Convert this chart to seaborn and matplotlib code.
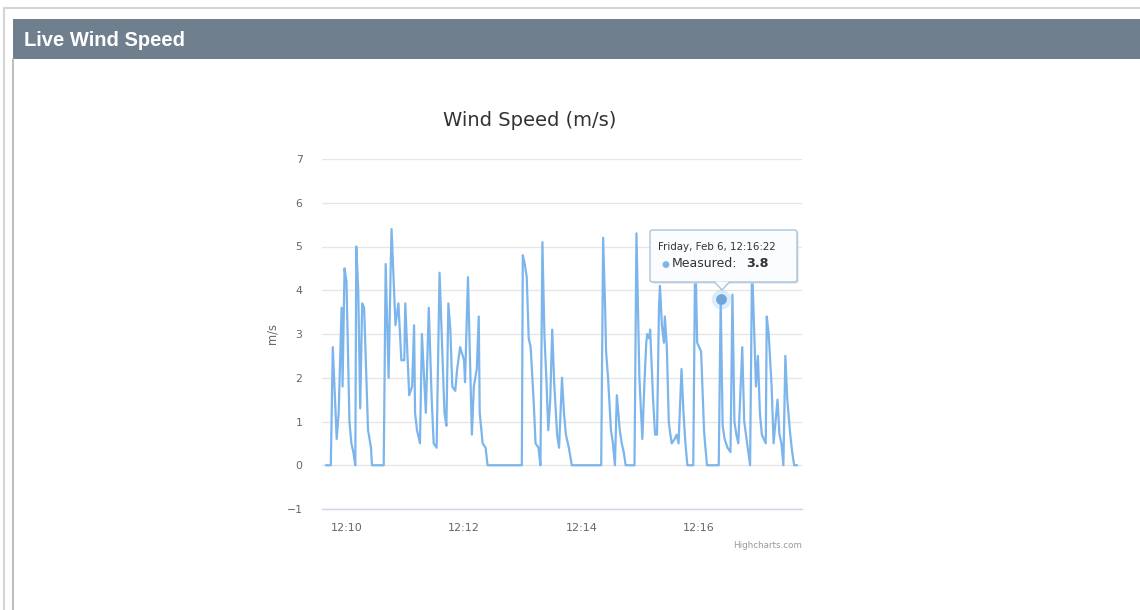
import pandas as pd
import matplotlib.pyplot as plt
import matplotlib.dates as mdates
from matplotlib.patches import Rectangle, Polygon, FancyBboxPatch
import seaborn as sns

# Setup
sns.set_style('white')
plt.rcParams['font.family'] = ['DejaVu Sans']

# Data, Friday Feb 6
day = '2015-02-06 '
times = [
    '12:09:39', '12:09:44', '12:09:46', '12:09:50', '12:09:52', '12:09:55', '12:09:56', '12:09:58',
    '12:10:00', '12:10:03', '12:10:05', '12:10:07', '12:10:09', '12:10:10', '12:10:12', '12:10:14',
    '12:10:16', '12:10:18', '12:10:22', '12:10:25', '12:10:26', '12:10:38', '12:10:40', '12:10:43',
    '12:10:45', '12:10:46', '12:10:48', '12:10:50', '12:10:53', '12:10:56', '12:10:59', '12:11:00',
    '12:11:04', '12:11:07', '12:11:09', '12:11:10', '12:11:12', '12:11:15', '12:11:17', '12:11:21',
    '12:11:24', '12:11:27', '12:11:29', '12:11:32', '12:11:35', '12:11:40', '12:11:42', '12:11:44',
    '12:11:46', '12:11:48', '12:11:51', '12:11:53', '12:11:56', '12:12:00', '12:12:01', '12:12:04',
    '12:12:08', '12:12:10', '12:12:13', '12:12:15', '12:12:16', '12:12:19', '12:12:22', '12:12:24',
    '12:12:59', '12:13:00', '12:13:02', '12:13:04', '12:13:06', '12:13:08', '12:13:11', '12:13:13',
    '12:13:16', '12:13:18', '12:13:20', '12:13:22', '12:13:24', '12:13:26', '12:13:28', '12:13:30',
    '12:13:32', '12:13:35', '12:13:37', '12:13:40', '12:13:42', '12:13:44', '12:13:47', '12:13:50',
    '12:14:20', '12:14:22', '12:14:24', '12:14:25', '12:14:27', '12:14:30', '12:14:32', '12:14:34',
    '12:14:36', '12:14:39', '12:14:41', '12:14:43', '12:14:45', '12:14:54', '12:14:56', '12:14:59',
    '12:15:02', '12:15:04', '12:15:06', '12:15:07', '12:15:09', '12:15:10', '12:15:13', '12:15:15',
    '12:15:17', '12:15:19', '12:15:20', '12:15:22', '12:15:24', '12:15:25', '12:15:27', '12:15:29',
    '12:15:30', '12:15:32', '12:15:35', '12:15:37', '12:15:39', '12:15:42', '12:15:44', '12:15:46',
    '12:15:48', '12:15:54', '12:15:56', '12:15:58', '12:16:02', '12:16:05', '12:16:06', '12:16:08',
    '12:16:20', '12:16:22', '12:16:24', '12:16:26', '12:16:29', '12:16:32', '12:16:34', '12:16:36',
    '12:16:38', '12:16:40', '12:16:44', '12:16:46', '12:16:49', '12:16:52', '12:16:54', '12:16:58',
    '12:17:00', '12:17:02', '12:17:04', '12:17:06', '12:17:08', '12:17:09', '12:17:11', '12:17:14',
    '12:17:16', '12:17:18', '12:17:20', '12:17:22', '12:17:24', '12:17:26', '12:17:28', '12:17:30',
    '12:17:33', '12:17:35', '12:17:37', '12:17:40',
]
speeds = [
    0, 0, 2.7, 0.6, 1.2, 3.6, 1.8, 4.5,
    4.2, 1.0, 0.5, 0.3, 0, 5.0, 4.0, 1.3,
    3.7, 3.6, 0.8, 0.4, 0, 0, 4.6, 2.0,
    4.4, 5.4, 4.3, 3.2, 3.7, 2.4, 2.4, 3.7,
    1.6, 1.8, 3.2, 1.2, 0.8, 0.5, 3.0, 1.2,
    3.6, 1.5, 0.5, 0.4, 4.4, 1.2, 0.9, 3.7,
    3.1, 1.8, 1.7, 2.2, 2.7, 2.4, 1.9, 4.3,
    0.7, 1.8, 2.2, 3.4, 1.2, 0.5, 0.4, 0,
    0, 4.8, 4.6, 4.3, 2.9, 2.7, 1.5, 0.5,
    0.4, 0, 5.1, 3.0, 2.0, 0.8, 1.5, 3.1,
    1.9, 0.7, 0.4, 2.0, 1.2, 0.7, 0.4, 0,
    0, 5.2, 3.6, 2.6, 2.0, 0.8, 0.5, 0,
    1.6, 0.8, 0.5, 0.3, 0, 0, 5.3, 2.0,
    0.6, 1.8, 2.8, 3.0, 2.9, 3.1, 1.5, 0.7,
    0.7, 3.6, 4.1, 3.2, 2.8, 3.4, 2.7, 1.0,
    0.8, 0.5, 0.6, 0.7, 0.5, 2.2, 1.2, 0.5,
    0, 0, 5.0, 2.8, 2.6, 0.8, 0.5, 0,
    0, 3.8, 0.9, 0.6, 0.4, 0.3, 3.9, 1.0,
    0.7, 0.5, 2.7, 1.0, 0.5, 0, 4.6, 1.8,
    2.5, 1.2, 0.7, 0.6, 0.5, 3.4, 3.0, 1.8,
    0.5, 1.0, 1.5, 0.7, 0.5, 0, 2.5, 1.5,
    0.7, 0.3, 0, 0,
]
y_ticks = [-1, 0, 1, 2, 3, 4, 5, 6, 7]
x_start, x_end = '12:09:35', '12:17:45'
tooltip_time = '12:16:22'
tooltip_value = 3.8

df = pd.DataFrame({'time': pd.to_datetime([day + t for t in times]), 'speed': speeds})
tip_t = pd.to_datetime(day + tooltip_time)

line_color = '#7cb5ec'
W, H = 1140, 610


def fx(px):
    return px / W


def fy(py):
    return 1 - py / H


fig = plt.figure(figsize=(W / 100, H / 100), dpi=100)
fig.patch.set_facecolor('white')

# Page frame and header bar
fig.add_artist(plt.Line2D([fx(4), fx(1140)], [fy(8), fy(8)], color='#d4d4d4', lw=1.5))
fig.add_artist(plt.Line2D([fx(4), fx(4)], [fy(8), fy(610)], color='#d4d4d4', lw=1.5))
fig.add_artist(plt.Line2D([fx(13), fx(13)], [fy(59), fy(610)], color='#bfbfbf', lw=1.5))
fig.add_artist(Rectangle((fx(13), fy(59)), fx(1140) - fx(13), (59 - 19) / H,
                         transform=fig.transFigure, color='#6f7f8e', lw=0))
fig.text(fx(24), fy(40), 'Live Wind Speed', color='white', fontsize=14.5,
         fontweight='bold', family='Liberation Sans', va='center', ha='left')

# Chart
ax = fig.add_axes([fx(322), fy(509), (802 - 322) / W, (509 - 159) / H])
sns.lineplot(data=df, x='time', y='speed', ax=ax, color=line_color, lw=1.6,
             estimator=None, sort=False)

ax.set_ylim(-1, 7)
ax.set_yticks(y_ticks)
ax.set_xlim(pd.to_datetime(day + x_start), pd.to_datetime(day + x_end))
ax.xaxis.set_major_locator(mdates.MinuteLocator(byminute=[10, 12, 14, 16]))
ax.xaxis.set_major_formatter(mdates.DateFormatter('%H:%M'))

ax.grid(axis='y', color='#e6e6e6', lw=1)
ax.grid(axis='x', visible=False)
ax.set_axisbelow(True)
for side in ['top', 'right', 'left']:
    ax.spines[side].set_visible(False)
ax.spines['bottom'].set_color('#ccd6eb')
ax.spines['bottom'].set_linewidth(1)
ax.tick_params(axis='y', length=0, pad=14, labelsize=7.8, labelcolor='#666666')
ax.tick_params(axis='x', direction='inout', length=8, width=0.8, color='#ccd6eb',
               pad=6, labelsize=8, labelcolor='#666666')

ax.set_xlabel('')
ax.set_ylabel('m/s', fontsize=8.3, color='#666666', labelpad=6)
fig.text(fx(530), fy(121), 'Wind Speed (m/s)', fontsize=14, color='#333333',
         ha='center', va='center')
fig.text(fx(802), fy(546), 'Highcharts.com', fontsize=6.3, color='#999999',
         ha='right', va='center')

# Hovered point
ax.scatter([tip_t], [tooltip_value], s=200, color=line_color, alpha=0.25, lw=0, zorder=4)
ax.scatter([tip_t], [tooltip_value], s=60, color='#6ea6dc', lw=0, zorder=5)

# Tooltip
box_x0, box_x1, box_y0, box_y1 = 650, 797, 230, 282
bw, bh = (box_x1 - box_x0) / W, (box_y1 - box_y0) / H
fig.add_artist(FancyBboxPatch((fx(box_x0 + 1.5), fy(box_y1 + 1.5)), bw, bh,
                              boxstyle='round,pad=0,rounding_size=0.003',
                              transform=fig.transFigure, fc='#d8dde3', ec='none', zorder=9))
fig.add_artist(FancyBboxPatch((fx(box_x0), fy(box_y1)), bw, bh,
                              boxstyle='round,pad=0,rounding_size=0.003',
                              transform=fig.transFigure, fc='#fbfcfd', ec='#a9c4df', lw=1, zorder=10))
fig.add_artist(Polygon([[fx(714), fy(box_y1 - 0.5)], [fx(722), fy(290)], [fx(730), fy(box_y1 - 0.5)]],
                       closed=False, transform=fig.transFigure, fc='#fbfcfd', ec='#a9c4df',
                       lw=1, zorder=10))
fig.text(fx(658), fy(247), 'Friday, Feb 6, ' + tooltip_time, fontsize=7.4, color='#333333',
         ha='left', va='center', zorder=11)
fig.text(fx(665), fy(265), '\u25cf', fontsize=6.5, color=line_color, ha='center', va='center', zorder=11)
fig.text(fx(672), fy(264), 'Measured:', fontsize=9, color='#333333', ha='left', va='center', zorder=11)
fig.text(fx(746), fy(264), f'{tooltip_value}', fontsize=9.2, color='#333333', fontweight='bold',
         ha='left', va='center', zorder=11)

plt.savefig('out.png', dpi=100)
plt.close()
